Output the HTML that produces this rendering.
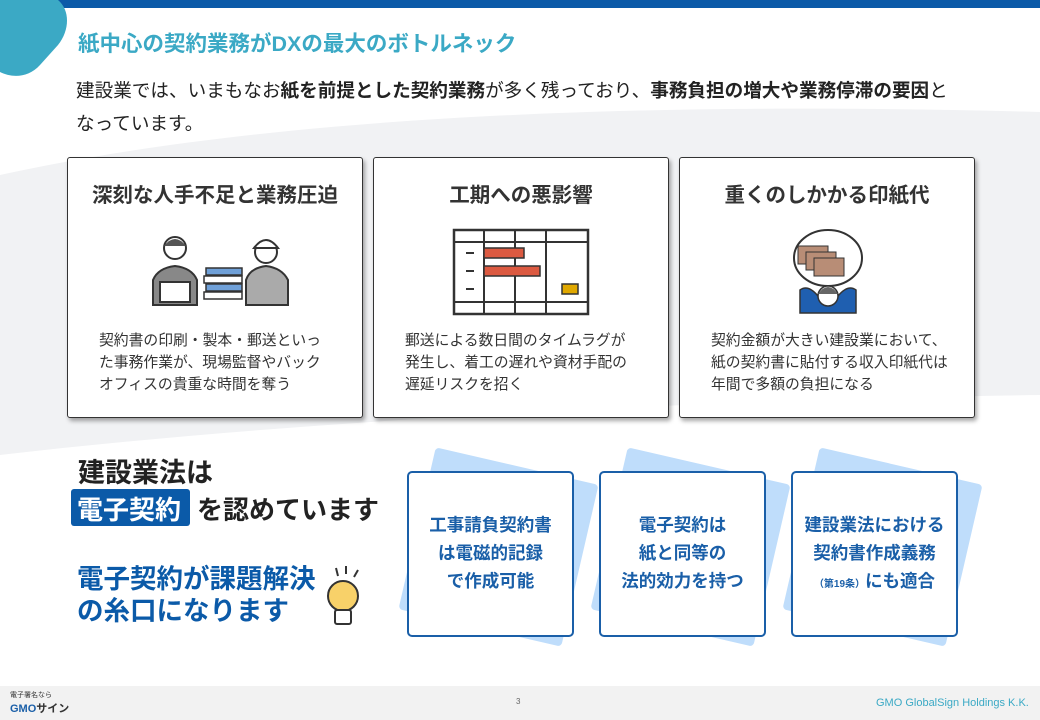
<!DOCTYPE html>
<html><head><meta charset="utf-8"><style>
*{margin:0;padding:0;box-sizing:border-box}
body{width:1040px;height:720px;overflow:hidden;position:relative;background:#fff;font-family:"Liberation Sans","Noto Sans CJK JP",sans-serif;color:#222}
.abs{position:absolute;white-space:nowrap}
.card{position:absolute;top:157px;width:296px;height:261px;background:#fff;border:1px solid #333;border-radius:3px;box-shadow:2px 3px 4px rgba(0,0,0,.35)}
.card h3{position:absolute;top:20px;left:0;right:0;text-align:center;font-size:20.5px;font-weight:bold;color:#333}
.card p{position:absolute;top:172px;left:31px;font-size:14.8px;line-height:22px;color:#333;white-space:nowrap}
.box{position:absolute;top:471px;width:167px;height:166px;background:#fff;border:2.5px solid #1a5fa8;border-radius:5px;padding-top:38px;text-align:center;color:#1a5fa8;font-weight:bold;font-size:17.5px;line-height:28px;white-space:nowrap}
.sq{position:absolute;top:471px;width:167px;height:166px;background:#bfddfb;transform:rotate(13deg);border-radius:4px}
</style></head><body>
<svg class="abs" style="left:0;top:0" width="1040" height="720">
<path d="M0,175 C250,120 600,100 1040,112 L1040,395 C700,400 300,420 0,455 Z" fill="#f1f2f4"/>
<rect x="0" y="686" width="1040" height="34" fill="#f2f2f2"/>
<rect x="55" y="0" width="985" height="8" fill="#0b5aa8"/>
<path d="M0,0 L58,0 C70,10 70,30 58,45 L40,65 C28,78 12,78 0,72 Z" fill="#3ba9c5"/>
</svg>
<div class="abs" style="left:78px;top:27px;font-size:21.5px;font-weight:bold;color:#3ba9c5">紙中心の契約業務がDXの最大のボトルネック</div>
<div class="abs" style="left:76px;top:74px;font-size:18.6px;line-height:33px;color:#222">建設業では、いまもなお<b>紙を前提とした契約業務</b>が多く残っており、<b>事務負担の増大や業務停滞の要因</b>と<br>なっています。</div>

<div class="card" style="left:67px"><h3>深刻な人手不足と業務圧迫</h3>
<svg class="abs" style="left:70px;top:72px" width="160" height="80">
<circle cx="37" cy="18" r="11" fill="#fff" stroke="#333" stroke-width="2"/><path d="M26,16 Q37,2 48,16" fill="#555"/>
<path d="M15,75 L15,50 Q20,38 37,36 Q54,38 59,50 L59,75Z" fill="#888" stroke="#333" stroke-width="2"/>
<rect x="22" y="52" width="30" height="20" fill="#fff" stroke="#333" stroke-width="2"/>
<rect x="68" y="38" width="36" height="7" fill="#6fa0d8" stroke="#333" stroke-width="1.5"/><rect x="66" y="46" width="38" height="7" fill="#fff" stroke="#333" stroke-width="1.5"/><rect x="68" y="54" width="36" height="7" fill="#6fa0d8" stroke="#333" stroke-width="1.5"/><rect x="66" y="62" width="38" height="7" fill="#fff" stroke="#333" stroke-width="1.5"/>
<circle cx="128" cy="22" r="11" fill="#fff" stroke="#333" stroke-width="2"/><path d="M116,18 Q128,2 140,18Z" fill="#fff" stroke="#333" stroke-width="2"/>
<path d="M108,75 L108,50 Q112,38 128,36 Q144,38 150,50 L150,75Z" fill="#aaa" stroke="#333" stroke-width="2"/>
</svg>
<p>契約書の印刷・製本・郵送といっ<br>た事務作業が、現場監督やバック<br>オフィスの貴重な時間を奪う</p></div>

<div class="card" style="left:373px"><h3>工期への悪影響</h3>
<svg class="abs" style="left:78px;top:70px" width="140" height="88">
<rect x="2" y="2" width="134" height="84" fill="#fff" stroke="#333" stroke-width="2.5"/>
<line x1="2" y1="14" x2="136" y2="14" stroke="#333" stroke-width="2"/><line x1="2" y1="74" x2="136" y2="74" stroke="#333" stroke-width="2"/>
<line x1="32" y1="2" x2="32" y2="86" stroke="#333" stroke-width="2"/><line x1="63" y1="2" x2="63" y2="86" stroke="#333" stroke-width="2"/><line x1="94" y1="2" x2="94" y2="86" stroke="#333" stroke-width="2"/>
<line x1="14" y1="25" x2="22" y2="25" stroke="#333" stroke-width="2"/><line x1="14" y1="43" x2="22" y2="43" stroke="#333" stroke-width="2"/><line x1="14" y1="61" x2="22" y2="61" stroke="#333" stroke-width="2"/>
<rect x="32" y="20" width="40" height="10" fill="#dc5a41" stroke="#333" stroke-width="1.5"/><rect x="32" y="38" width="56" height="10" fill="#dc5a41" stroke="#333" stroke-width="1.5"/><rect x="110" y="56" width="16" height="10" fill="#e0a800" stroke="#333" stroke-width="1.5"/>
</svg>
<p>郵送による数日間のタイムラグが<br>発生し、着工の遅れや資材手配の<br>遅延リスクを招く</p></div>

<div class="card" style="left:679px"><h3>重くのしかかる印紙代</h3>
<svg class="abs" style="left:98px;top:60px" width="100" height="100">
<ellipse cx="50" cy="40" rx="34" ry="28" fill="#fff" stroke="#333" stroke-width="2"/>
<rect x="20" y="28" width="30" height="18" fill="#b88d76" stroke="#333"/><rect x="28" y="34" width="30" height="18" fill="#b88d76" stroke="#333"/><rect x="36" y="40" width="30" height="18" fill="#b88d76" stroke="#333"/>
<path d="M22,95 L22,72 Q30,66 40,78 L60,78 Q70,66 78,72 L78,95Z" fill="#1f5fb0" stroke="#333" stroke-width="1.5"/>
<circle cx="50" cy="78" r="10" fill="#fff" stroke="#333" stroke-width="1.5"/><path d="M40,76 Q50,62 60,76Z" fill="#666"/>
</svg>
<p>契約金額が大きい建設業において、<br>紙の契約書に貼付する収入印紙代は<br>年間で多額の負担になる</p></div>

<div class="abs" style="left:78px;top:451px;font-size:27px;font-weight:bold;color:#222">建設業法は</div>
<div class="abs" style="left:71px;top:489px;width:119px;height:37px;background:#0b5aa8;border-radius:3px"></div>
<div class="abs" style="left:77px;top:490px;font-size:26px;font-weight:bold;color:#fff">電子契約</div>
<div class="abs" style="left:197px;top:490px;font-size:26px;font-weight:bold;color:#222">を認めています</div>
<div class="abs" style="left:77px;top:563px;font-size:26.5px;font-weight:bold;color:#0b5aa8;line-height:32px">電子契約が課題解決<br>の糸口になります</div>
<svg class="abs" style="left:318px;top:560px" width="50" height="72">
<path d="M18,8 L20,16 M28,6 L28,14 M40,10 L36,17" stroke="#333" stroke-width="2"/>
<circle cx="25" cy="36" r="15" fill="#f8d169" stroke="#333" stroke-width="2"/>
<rect x="17" y="50" width="16" height="14" rx="2" fill="#fff" stroke="#333" stroke-width="2"/>
</svg>

<div class="sq" style="left:415px;top:464px"></div>
<div class="sq" style="left:607px;top:464px"></div>
<div class="sq" style="left:799px;top:464px"></div>
<div class="box" style="left:407px">工事請負契約書<br>は電磁的記録<br>で作成可能</div>
<div class="box" style="left:599px">電子契約は<br>紙と同等の<br>法的効力を持つ</div>
<div class="box" style="left:791px">建設業法における<br>契約書作成義務<br><span style="font-size:10px">（第19条）</span>にも適合</div>

<div class="abs" style="left:10px;top:690px;font-size:7px;color:#333">電子署名なら</div>
<div class="abs" style="left:10px;top:700px;font-size:11px;font-weight:bold;color:#1a5fa8">GMO<span style="color:#333">サイン</span></div>
<div class="abs" style="left:516px;top:697px;font-size:8px;color:#666">3</div>
<div class="abs" style="left:876px;top:697px;font-size:11px;color:#3ba9c5">GMO GlobalSign Holdings K.K.</div>
</body></html>
